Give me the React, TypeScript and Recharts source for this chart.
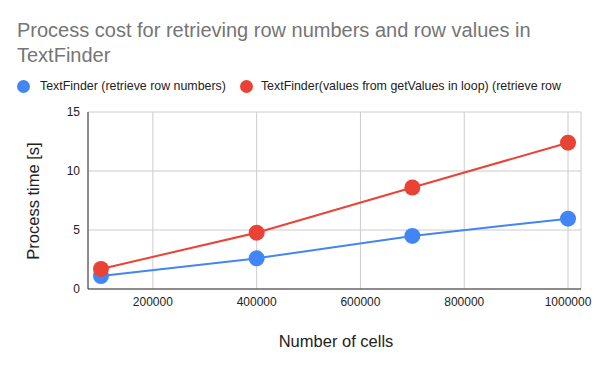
import React from 'react';
import { LineChart, Line, XAxis, YAxis, CartesianGrid } from 'recharts';

const cells = [100000, 400000, 700000, 1000000];
const rowNumbers = [1.1, 2.6, 4.5, 5.96];
const rowValues = [1.7, 4.77, 8.6, 12.4];
const xTicks = [200000, 400000, 600000, 800000, 1000000];
const yTicks = [0, 5, 10, 15];

const seriesNames = [
  'TextFinder (retrieve row numbers)',
  'TextFinder(values from getValues in loop) (retrieve row',
];
const BLUE = '#4285F4';
const RED = '#EA4335';
const FONT = '"Liberation Sans", Arial, sans-serif';

const data = cells.map((c, i) => ({ cells: c, numbers: rowNumbers[i], values: rowValues[i] }));

const LegendRow = () => (
  <div style={{ position: 'absolute', left: 17, top: 79, display: 'flex', alignItems: 'center', fontSize: 12.4, color: '#222', whiteSpace: 'nowrap' }}>
    <span style={{ width: 13, height: 13, borderRadius: 7, background: BLUE, display: 'inline-block', marginRight: 10 }} />
    <span style={{ marginRight: 14 }}>{seriesNames[0]}</span>
    <span style={{ width: 13, height: 13, borderRadius: 7, background: RED, display: 'inline-block', marginRight: 8 }} />
    <span>{seriesNames[1]}</span>
  </div>
);

export default function App() {
  return (
    <div style={{ position: 'absolute', left: 0, top: 0, width: 600, height: 371, background: '#fff', fontFamily: FONT }}>
      <div style={{ position: 'absolute', left: 17, top: 18, fontSize: 20, lineHeight: '25px', color: '#757575', width: 580 }}>
        Process cost for retrieving row numbers and row values in<br />TextFinder
      </div>
      <LegendRow />
      <div style={{ position: 'absolute', left: 0, top: 332, width: 672, textAlign: 'center', fontSize: 16.5, color: '#222' }}>
        Number of cells
      </div>
      <div style={{
        position: 'absolute', left: 33, top: 201, fontSize: 16.5, color: '#222', whiteSpace: 'nowrap',
        transform: 'translate(-50%, -50%) rotate(-90deg)',
      }}>
        Process time [s]
      </div>
      <LineChart width={600} height={371} data={data} margin={{ top: 112, right: 19, bottom: 52, left: 28 }}>
        <CartesianGrid stroke="#cccccc" />
        <XAxis
          dataKey="cells" type="number" domain={[75000, 1025000]} ticks={xTicks}
          tick={{ fontSize: 12, fill: '#222', fontFamily: FONT }} tickLine={false}
          axisLine={{ stroke: '#333' }} height={30} interval={0}
        />
        <YAxis
          type="number" domain={[0, 15]} ticks={yTicks} width={60}
          tick={{ fontSize: 12, fill: '#222', fontFamily: FONT }} tickLine={false}
          axisLine={{ stroke: '#333' }}
        />
        <Line dataKey="numbers" stroke={BLUE} strokeWidth={2} dot={{ r: 8, fill: BLUE, stroke: BLUE, strokeWidth: 0 }} isAnimationActive={false} />
        <Line dataKey="values" stroke={RED} strokeWidth={2} dot={{ r: 8, fill: RED, stroke: RED, strokeWidth: 0 }} isAnimationActive={false} />
      </LineChart>
    </div>
  );
}
